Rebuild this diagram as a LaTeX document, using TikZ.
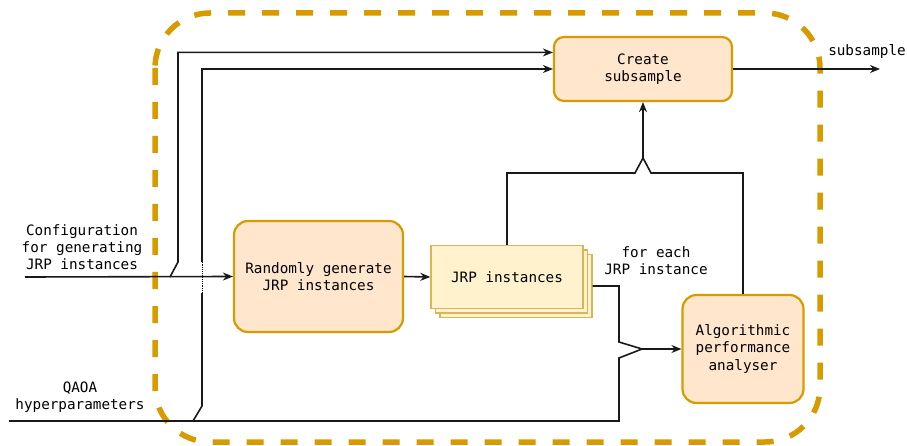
\documentclass[tikz,border=0pt]{standalone}
\usepackage{fontspec}
\setmonofont{DejaVu Sans Mono}
\usepackage{tikz}
\usetikzlibrary{arrows.meta,calc,positioning}
\definecolor{procfill}{RGB}{255,230,204}
\definecolor{procline}{RGB}{215,155,0}
\definecolor{datafill}{RGB}{255,242,204}
\definecolor{dataline}{RGB}{214,182,86}

\begin{document}
\begin{tikzpicture}[x=1pt,y=-1pt,
  font=\ttfamily\fontsize{14.3}{17.2}\selectfont,>={Stealth[length=10pt,width=8pt]},
  procbox/.style={draw=procline,fill=procfill,line width=2.2pt,rounded corners=14pt,align=center,inner sep=2pt},
  databox/.style={draw=dataline,fill=datafill,line width=1.4pt,minimum width=152pt,minimum height=63pt,align=center},
  wire/.style={line width=1.6pt,black!90},
  flow/.style={wire,->},
  frame/.style={draw=procline,line width=5.5pt,dash pattern=on 17pt off 17pt,rounded corners=55pt},
  lbl/.style={align=center,inner sep=0pt}]
\useasboundingbox (0,0) rectangle (907,446);
% ---------------- the dashed frame ----------------
\draw[frame] (155,13) rectangle (820,442);
% ---------------- blocks ----------------
\node[procbox,minimum width=178pt,minimum height=64pt,rounded corners=10pt] (create) at (643,69) {Create\\subsample};
\node[procbox,minimum width=169pt,minimum height=111pt] (gen) at (318.5,276.5) {Randomly generate\\JRP instances};
\node[databox] (inst3) at (516,286) {};
\node[databox] (inst2) at (511.5,281.5) {};
\node[databox] (inst) at (507,277) {JRP instances};
\node[procbox,minimum width=121pt,minimum height=108pt] (ana) at (743,349) {Algorithmic\\performance\\analyser};
% ---------------- inputs and output ----------------
\node[lbl] (cfglbl) at (82,247) {Configuration\\for generating\\JRP instances};
\node[lbl] (qaoalbl) at (80,397) {QAOA\\hyperparameters};
\node[lbl] (outlbl) at (867,52) {subsample};
\node[lbl] (eachlbl) at (656,261) {for each\\JRP instance};
\coordinate (cfgin) at (25,277);
\coordinate (cfgsplit) at (170,277);
\coordinate (qaoain) at (9,421);
\coordinate (qaoasplit) at (193,421);
\coordinate (out) at (880,69);
\coordinate (merge) at (643,158);
\coordinate (join) at (642,349);
% ---------------- connectors ----------------
\draw[flow] (cfgin) -- (gen.west);
\draw[flow] (cfgsplit) -- ++(8,-15) |- ($(create.north west)!0.25!(create.south west)$);
\draw[wire] (qaoain) -| (619,358) -- (join);
\draw[wire] (qaoasplit) -- ++(9,-15) -- (202,293);
\draw[line width=0.9pt,densely dotted] (202,293) -- (202,262);
\draw[flow] (202,262) |- (create.west);
\draw[flow] (gen.east) -- (inst.west);
\draw[wire] (inst.north) |- (635,173) -- (merge);
\draw[wire] (ana.north) |- (651,173) -- (merge);
\draw[flow] (merge) -- (create.south);
\draw[wire] (inst3.east) -| (619,342) -- (join);
\draw[flow] (join) -- (ana.west);
\draw[flow] (create.east) -- (out);
\end{tikzpicture}
\end{document}
